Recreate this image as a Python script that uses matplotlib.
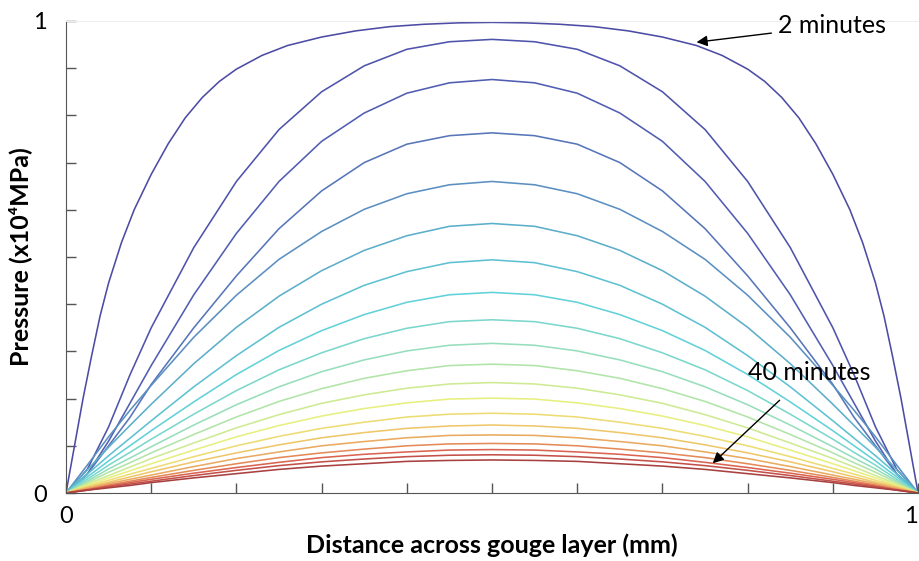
import numpy as np
import matplotlib
matplotlib.use('Agg')
import matplotlib.pyplot as plt
from matplotlib.colors import LinearSegmentedColormap

# half profiles (layer is symmetric about the middle)
x_first = [0, 0.01, 0.02, 0.03, 0.04, 0.05, 0.065, 0.08, 0.1, 0.12, 0.14, 0.16, 0.18,
           0.2, 0.23, 0.26, 0.3, 0.34, 0.38, 0.42, 0.46, 0.5]
x_half = [0, 0.025, 0.05, 0.075, 0.1, 0.15, 0.2, 0.25, 0.3, 0.35, 0.4, 0.45, 0.5]

# pressure (x10^4 MPa), one row every 2 minutes, 2 .. 40 min
p_2 = [0, 0.10, 0.20, 0.29, 0.375, 0.445, 0.53, 0.60, 0.675, 0.74, 0.795, 0.838, 0.872,
       0.898, 0.927, 0.948, 0.966, 0.979, 0.988, 0.993, 0.996, 0.997]
p_4 = [0, 0.05, 0.14, 0.25, 0.35, 0.52, 0.66, 0.77, 0.85, 0.905, 0.94, 0.956, 0.961]
p_6 = [0, 0.04, 0.11, 0.19, 0.27, 0.42, 0.55, 0.66, 0.745, 0.805, 0.847, 0.869, 0.876]
p_8 = [0, 0.04, 0.10, 0.16, 0.23, 0.35, 0.46, 0.56, 0.64, 0.70, 0.739, 0.757, 0.763]
p_10 = [0, 0.059, 0.119, 0.175, 0.228, 0.330, 0.419, 0.495, 0.554, 0.601, 0.634, 0.653, 0.660]
p_12 = [0, 0.049, 0.097, 0.143, 0.188, 0.274, 0.351, 0.417, 0.471, 0.514, 0.545, 0.565, 0.571]
p_14 = [0, 0.040, 0.079, 0.116, 0.153, 0.225, 0.291, 0.351, 0.400, 0.440, 0.469, 0.488, 0.494]
p_16 = [0, 0.034, 0.068, 0.100, 0.132, 0.193, 0.251, 0.302, 0.344, 0.378, 0.404, 0.420, 0.425]
p_18 = [0, 0.029, 0.059, 0.086, 0.114, 0.167, 0.217, 0.261, 0.297, 0.327, 0.349, 0.363, 0.367]
p_20 = [0, 0.025, 0.051, 0.074, 0.098, 0.144, 0.187, 0.225, 0.257, 0.282, 0.301, 0.313, 0.317]
p_22 = [0, 0.022, 0.044, 0.064, 0.085, 0.124, 0.161, 0.194, 0.221, 0.243, 0.259, 0.270, 0.273]
p_24 = [0, 0.019, 0.037, 0.055, 0.073, 0.106, 0.138, 0.166, 0.190, 0.208, 0.222, 0.231, 0.234]
p_26 = [0, 0.016, 0.032, 0.047, 0.062, 0.091, 0.119, 0.143, 0.163, 0.179, 0.191, 0.199, 0.201]
p_28 = [0, 0.014, 0.027, 0.040, 0.052, 0.077, 0.100, 0.120, 0.137, 0.150, 0.161, 0.167, 0.169]
p_30 = [0, 0.012, 0.023, 0.034, 0.045, 0.066, 0.085, 0.102, 0.117, 0.128, 0.137, 0.142, 0.144]
p_32 = [0, 0.010, 0.020, 0.029, 0.038, 0.056, 0.073, 0.087, 0.100, 0.109, 0.117, 0.122, 0.123]
p_34 = [0, 0.008, 0.017, 0.025, 0.033, 0.048, 0.062, 0.075, 0.085, 0.093, 0.100, 0.104, 0.105]
p_36 = [0, 0.007, 0.015, 0.022, 0.029, 0.042, 0.054, 0.065, 0.075, 0.082, 0.087, 0.091, 0.092]
p_38 = [0, 0.006, 0.013, 0.019, 0.025, 0.037, 0.048, 0.058, 0.066, 0.072, 0.077, 0.080, 0.081]
p_40 = [0, 0.006, 0.011, 0.016, 0.022, 0.032, 0.041, 0.050, 0.057, 0.062, 0.067, 0.069, 0.070]

curves = [p_2, p_4, p_6, p_8, p_10, p_12, p_14, p_16, p_18, p_20,
          p_22, p_24, p_26, p_28, p_30, p_32, p_34, p_36, p_38, p_40]

plt.rcParams['font.family'] = ['Lato', 'DejaVu Sans']

fig = plt.figure(figsize=(9.19, 5.61), dpi=100)
ax = fig.add_axes([0.0718, 0.1212, 0.9272, 0.8414])

# muted rainbow, blue (early) -> dark red (late)
rainbow = LinearSegmentedColormap.from_list('muted', [
    '#4c4ca4', '#5058b0', '#5a80bc', '#5cb4cc', '#60d0da', '#8cdcc4',
    '#bce6a0', '#eaf07c', '#f0cc6c', '#e89c5c', '#d85c50', '#a84040'])
cols = rainbow(np.linspace(0, 1, len(curves)))

for i in range(len(curves)):
    ph = np.array(curves[i])
    if i == 0:
        xh = np.array(x_first)
    else:
        xh = np.array(x_half)
    x = np.concatenate([xh, 1 - xh[-2::-1]])
    p = np.concatenate([ph, ph[-2::-1]])
    ax.plot(x, p, color=cols[i], lw=1.15)

ax.set_xlim(0, 1)
ax.set_ylim(0, 1)
ax.set_xticks(np.arange(0, 1.01, 0.1))
ax.set_yticks(np.arange(0, 1.01, 0.1))
ax.set_xticklabels(['0'] + [''] * 9 + ['1'])
ax.set_yticklabels(['0'] + [''] * 9 + ['1'])
ax.tick_params(direction='in', length=7, width=1, color='#555555',
               labelsize=17)
ax.tick_params(axis='y', pad=14)
ax.tick_params(axis='x', pad=9)
ax.get_xticklabels()[-1].set_horizontalalignment('right')

ax.spines['right'].set_visible(False)
ax.spines['top'].set_color('#eeeeee')
ax.spines['left'].set_color('#555555')
ax.spines['bottom'].set_color('#555555')

ax.set_xlabel('Distance across gouge layer (mm)', fontsize=18, fontweight='bold')
ax.set_ylabel('Pressure (x10⁴MPa)', fontsize=18, fontweight='bold')
ax.xaxis.set_label_coords(0.5, -0.085)
ax.yaxis.set_label_coords(-0.04, 0.5)

ax.annotate('2 minutes', xy=(0.74, 0.955), xytext=(0.836, 0.99),
            fontsize=18, va='center', ha='left',
            arrowprops=dict(arrowstyle='-|>', color='black', lw=1, mutation_scale=16,
                            shrinkA=3, shrinkB=0))
ax.annotate('40 minutes', xy=(0.759, 0.063), xytext=(0.800, 0.255),
            fontsize=18, va='center', ha='left',
            arrowprops=dict(arrowstyle='-|>', color='black', lw=1, mutation_scale=16,
                            shrinkA=14, shrinkB=0))

fig.savefig('out.png', dpi=100)
